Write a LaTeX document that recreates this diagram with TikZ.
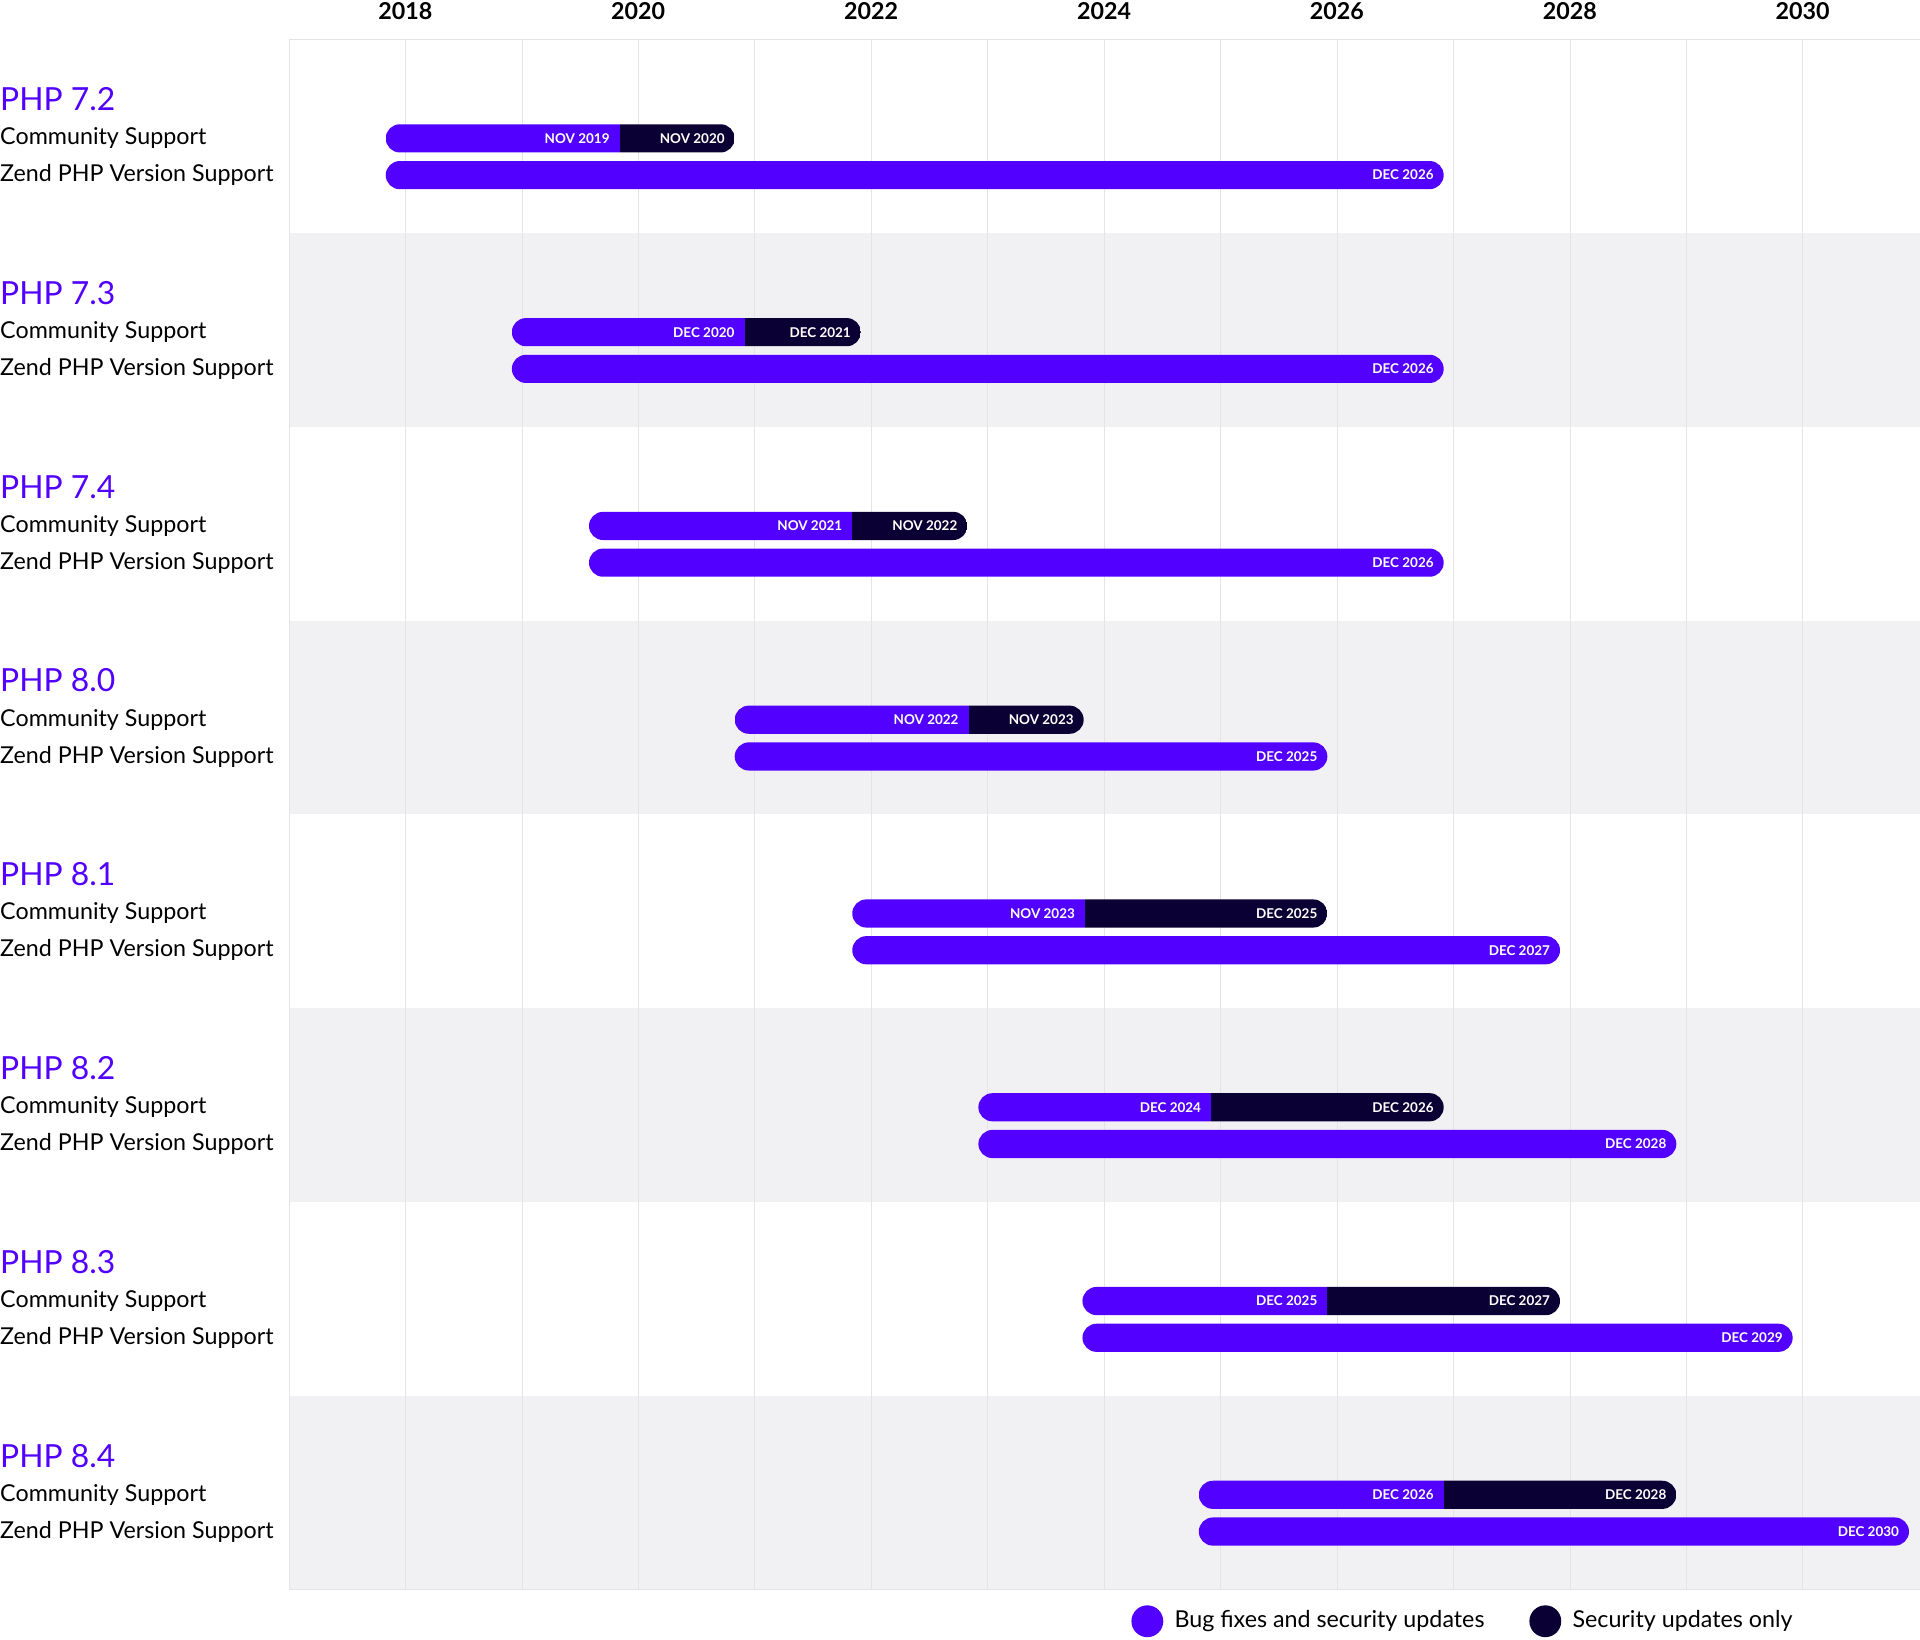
\documentclass[tikz,border=0pt]{standalone}
\usepackage{fontspec}
\setmainfont{Lato}
\definecolor{php}{HTML}{5200FF}
\definecolor{dk}{HTML}{0B0033}
\definecolor{band}{HTML}{F1F1F3}
\definecolor{grid}{HTML}{E4E4E8}
\begin{document}
\begin{tikzpicture}[x=1pt,y=-1pt,
  barlab/.style={text=white,font=\fontsize{11}{11}\selectfont\bfseries,anchor=east,inner sep=0},
  rowtxt/.style={anchor=west,inner sep=0,font=\fontsize{19}{19}\selectfont,text=black},
  title/.style={anchor=west,inner sep=0,font=\fontsize{26}{26}\selectfont,text=php}]
\useasboundingbox (0,0) rectangle (1568,1339);
\fill[white] (0,0) rectangle (1568,1339);
\foreach \i in {0,...,7}{
  \pgfmathsetmacro\yt{32+158.25*\i}
  \pgfmathparse{mod(\i,2)==1?1:0}
  \ifnum\pgfmathresult=1 \fill[band] (236,\yt) rectangle (1568,\yt+158.25);\fi
}
\draw[grid] (236,32) rectangle (1568,1298);
\foreach \k in {0,...,12}{ \draw[grid] (331+95.1*\k,32) -- (331+95.1*\k,1298); }
\foreach \y [count=\k from 0] in {2018,2020,2022,2024,2026,2028,2030}{
  \node[font=\fontsize{19}{19}\selectfont\bfseries] (yr\y) at (331+190.2*\k,9) {\y};}
\foreach \i/\v/\s/\m/\e/\z/\la/\lb/\lc in {
 0/7.2/315/506/600/1179/NOV 2019/NOV 2020/DEC 2026,
 1/7.3/418/608/703/1179/DEC 2020/DEC 2021/DEC 2026,
 2/7.4/481/696/790/1179/NOV 2021/NOV 2022/DEC 2026,
 3/8.0/600/791/885/1084/NOV 2022/NOV 2023/DEC 2025,
 4/8.1/696/886/1084/1274/NOV 2023/DEC 2025/DEC 2027,
 5/8.2/799/989/1179/1369/DEC 2024/DEC 2026/DEC 2028,
 6/8.3/884/1084/1274/1464/DEC 2025/DEC 2027/DEC 2029,
 7/8.4/979/1179/1369/1559/DEC 2026/DEC 2028/DEC 2030}{
  \pgfmathsetmacro\yc{113+158.25*\i}
  \node[title] (t\i) at (0,\yc-32) {PHP \v};
  \node[rowtxt] (c\i) at (0,\yc) {Community Support};
  \node[rowtxt] (z\i) at (0,\yc+30) {Zend PHP Version Support};
  \begin{scope}
   \clip[rounded corners=11.5] (\s,\yc-11.5) rectangle (\e,\yc+11.5);
   \fill[php] (\s,\yc-12) rectangle (\m,\yc+12);
   \fill[dk] (\m,\yc-12) rectangle (\e,\yc+12);
  \end{scope}
  \node[barlab] (a\i) at (\m-8,\yc) {\la};
  \node[barlab] (b\i) at (\e-8,\yc) {\lb};
  \fill[php,rounded corners=11.5] (\s,\yc+18.5) rectangle (\z,\yc+41.5);
  \node[barlab] (d\i) at (\z-8,\yc+30) {\lc};
}
\fill[php] (937,1324) circle (13);
\node[rowtxt] (l1) at (959,1324) {Bug fixes and security updates};
\fill[dk] (1262,1324) circle (13);
\node[rowtxt] (l2) at (1284,1324) {Security updates only};
\end{tikzpicture}
\end{document}
